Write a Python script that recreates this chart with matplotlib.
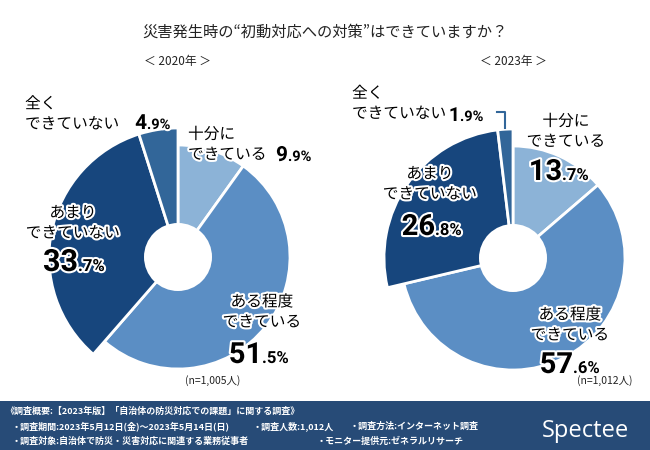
import matplotlib
matplotlib.use("Agg")
import matplotlib.pyplot as plt
import matplotlib.patheffects as pe
from matplotlib.patches import Circle, Rectangle
import numpy as np

plt.rcParams['font.family'] = ['Noto Sans CJK JP', 'DejaVu Sans']

### data
categories = ["十分に\nできている", "ある程度\nできている", "あまり\nできていない", "全く\nできていない"]
values_2020 = [9.9, 51.5, 33.7, 4.9]
values_2023 = [13.7, 57.6, 26.8, 1.9]
years = ["2020年", "2023年"]
sample_sizes = ["1,005", "1,012"]

title = "災害発生時の“初動対応への対策”はできていますか？"
footer_lines = [
    [(5, "《調査概要:【2023年版】「自治体の防災対応での課題」に関する調査》")],
    [(12, "・調査期間:2023年5月12日(金)〜2023年5月14日(日)"),
     (253, "・調査人数:1,012人"),
     (350, "・調査方法:インターネット調査")],
    [(12, "・調査対象:自治体で防災・災害対応に関連する業務従事者"),
     (317, "・モニター提供元:ゼネラルリサーチ")],
]

### style
colors = ["#8cb3d7", "#5b8ec4", "#17467d", "#326699"]
raised = [False, False, True, True]
W, H = 650, 450
R_OUT, R_UP, R_HOLE = 112, 129, 34
num_font = ["Roboto", "DejaVu Sans"]
outline = [pe.withStroke(linewidth=3, foreground="white")]

# label layout per chart: (text x, text y, align, number x, number baseline, big size, small size)
layout_2020 = [
    (188, 144.5, "left", 288, 161, 15, 10.5),
    (262, 312, "center", 262, 363, 21, 12),
    (73, 223, "center", 78, 271, 22, 12),
    (25, 114, "left", 147, 129, 15, 10.5),
]
layout_2023 = [
    (566, 131.5, "center", 562, 180, 21, 12),
    (570, 325, "center", 573, 373, 21, 12),
    (430, 184, "center", 435, 235, 21, 12),
    (352, 103.5, "left", 460, 121, 14, 10.5),
]


def Y(y):
    # image rows counted from the top
    return H - y


def pct_text(ax, x, y, value, big, small):
    whole, dec = f"{value:.1f}".split(".")
    ax.text(x, Y(y), whole, ha="right", va="baseline", fontsize=big,
            fontweight="bold", family=num_font, path_effects=outline, zorder=6)
    ax.text(x, Y(y), "." + dec + "%", ha="left", va="baseline", fontsize=small,
            fontweight="bold", family=num_font, path_effects=outline, zorder=6)


def draw_donut(ax, values, cx, cy, layout, year, leader=False):
    wedges, _ = ax.pie(values, colors=colors, startangle=90, counterclock=False,
                       radius=R_OUT, center=(cx, Y(cy)),
                       wedgeprops=dict(edgecolor="white", linewidth=2))
    for w, up in zip(wedges, raised):
        if up:
            w.set_radius(R_UP)
    ax.add_patch(Circle((cx, Y(cy)), R_HOLE, facecolor="white", edgecolor="none", zorder=3))

    for cat, val, (tx, ty, ha, nx, ny, big, small) in zip(categories, values, layout):
        ax.text(tx, Y(ty), cat, ha=ha, va="center", multialignment=ha,
                fontsize=11.3, linespacing=1.25, path_effects=outline, zorder=6)
        pct_text(ax, nx, ny, val, big, small)

    if leader:
        w = wedges[-1]
        mid = np.deg2rad((w.theta1 + w.theta2) / 2)
        x0 = cx + (R_UP + 1) * np.cos(mid)
        y0 = Y(cy) + (R_UP + 1) * np.sin(mid)
        ax.plot([x0, x0, x0 - 8], [y0, y0 + 16, y0 + 16], color=colors[3], lw=1.5, zorder=4)

    ax.text(cx, Y(62), f"＜ {year} ＞", ha="center", va="center", fontsize=8.5, color="#222222")
    return wedges


fig = plt.figure(figsize=(W / 100, H / 100), dpi=100)
ax = fig.add_axes([0, 0, 1, 1])

draw_donut(ax, values_2020, 178, 257, layout_2020, years[0])
draw_donut(ax, values_2023, 513, 258, layout_2023, years[1], leader=True)

ax.text(325, Y(32), title, ha="center", va="center", fontsize=11, color="#222222")
ax.text(213, Y(381), f"(n={sample_sizes[0]}人)", ha="center", va="center", fontsize=7.5, color="#222222")
ax.text(605, Y(381), f"(n={sample_sizes[1]}人)", ha="center", va="center", fontsize=7.5, color="#222222")

### footer band
ax.add_patch(Rectangle((0, 0), W, H - 401, facecolor="#274b77", edgecolor="none", zorder=1))
for row, segs in zip([411, 426, 441], footer_lines):
    for x, s in segs:
        ax.text(x, Y(row), s, ha="left", va="center", fontsize=6.5, fontweight="bold",
                color="white", zorder=7)
ax.text(542, Y(437), "Spectee", ha="left", va="baseline", fontsize=17, color="white",
        family=["Open Sans", "DejaVu Sans"], zorder=7)

ax.set_xlim(0, W)
ax.set_ylim(0, H)
ax.set_aspect("equal")
ax.axis("off")

plt.savefig("out.png", dpi=100)
plt.close()
